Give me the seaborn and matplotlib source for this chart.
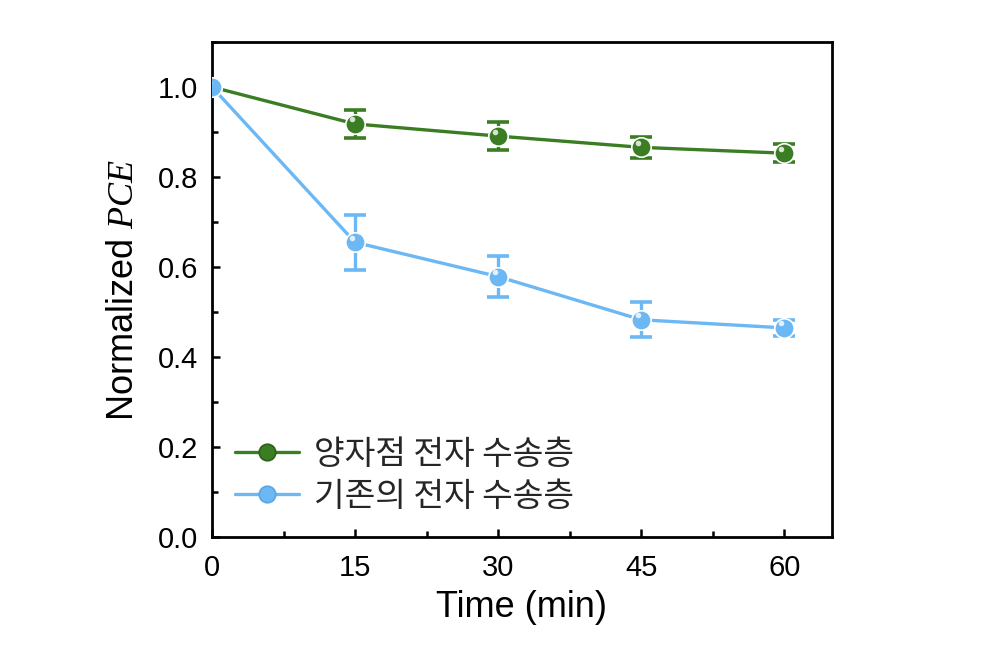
import numpy as np
import pandas as pd
import matplotlib
matplotlib.use("Agg")
import matplotlib.pyplot as plt
from matplotlib.ticker import MultipleLocator
import seaborn as sns

# data
time_min = [0, 15, 30, 45, 60]
qd_pce = [1.0, 0.918, 0.891, 0.866, 0.853]
qd_err = [0.0, 0.032, 0.031, 0.024, 0.020]
ref_pce = [1.0, 0.655, 0.579, 0.483, 0.465]
ref_err = [0.0, 0.061, 0.045, 0.039, 0.018]
labels = ["양자점 전자 수송층", "기존의 전자 수송층"]
colors = ["#3a7d22", "#6cb8f4"]
edges = ["#2b6118", "#58a6e6"]

sns.set_style("ticks")
plt.rcParams['font.family'] = ['Liberation Sans', 'Noto Sans CJK KR', 'DejaVu Sans']
plt.rcParams['mathtext.fontset'] = 'custom'
plt.rcParams['mathtext.it'] = 'Liberation Serif:italic'

df = pd.DataFrame({
    "Time": time_min * 2,
    "PCE": qd_pce + ref_pce,
    "err": qd_err + ref_err,
    "Layer": [labels[0]] * 5 + [labels[1]] * 5,
})

fig = plt.figure(figsize=(10, 6.56), dpi=100)
ax = fig.add_axes([0.212, 0.181, 0.62, 0.755])

for lab, col in zip(labels, colors):
    sub = df[df["Layer"] == lab]
    ax.errorbar(sub["Time"], sub["PCE"], yerr=sub["err"], fmt="none",
                ecolor=col, elinewidth=2.4, capsize=8, capthick=2.6, zorder=2)

sns.lineplot(data=df, x="Time", y="PCE", hue="Layer", palette=colors,
             marker="o", markersize=14, markeredgewidth=1.2, linewidth=2.4,
             ax=ax, zorder=3)
for line, ec in zip(ax.lines[-2:], edges):
    line.set_markeredgecolor(ec)

# small highlight on the spheres
for lab in labels:
    sub = df[df["Layer"] == lab]
    ax.scatter(sub["Time"] - 0.35, sub["PCE"] + 0.01, s=16, color="white",
               alpha=0.8, linewidths=0, zorder=4)

ax.set_xlim(0, 65)
ax.set_ylim(0, 1.1)
ax.xaxis.set_major_locator(MultipleLocator(15))
ax.xaxis.set_minor_locator(MultipleLocator(7.5))
ax.yaxis.set_major_locator(MultipleLocator(0.2))
ax.yaxis.set_minor_locator(MultipleLocator(0.1))
ax.yaxis.set_major_formatter(matplotlib.ticker.FormatStrFormatter('%.1f'))
ax.tick_params(which="both", direction="in", width=1.8, labelsize=21,
               colors="black")
ax.tick_params(axis="x", pad=12)
ax.tick_params(axis="y", pad=10)
ax.tick_params(which="major", length=6)
ax.tick_params(which="minor", length=4)
for s in ax.spines.values():
    s.set_linewidth(2)
    s.set_color("black")

ax.set_xlabel("Time (min)", fontsize=26, labelpad=6, color="black")
ax.set_ylabel("Normalized $PCE$", fontsize=26, labelpad=12, color="black")

leg = ax.legend(loc="lower left", bbox_to_anchor=(0.0, 0.0), frameon=False,
                fontsize=24, handlelength=1.9, handletextpad=0.45,
                labelspacing=0.22, borderaxespad=0.3, markerscale=0.85)
for t in leg.get_texts():
    t.set_family(['Noto Sans CJK KR', 'DejaVu Sans'])

fig.savefig("out.png", dpi=100)
